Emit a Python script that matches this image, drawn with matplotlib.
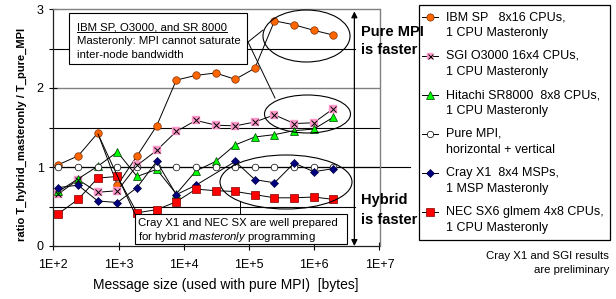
#!/usr/bin/env python3
"""Hybrid masteronly vs pure MPI ratio chart (Excel-style reproduction)."""

import matplotlib
matplotlib.use("Agg")
import matplotlib.pyplot as plt
import numpy as np
from matplotlib import font_manager
from matplotlib.lines import Line2D
from matplotlib.patches import Ellipse, Rectangle

# message sizes (bytes, used with pure MPI)
sizes = [120, 240, 480, 960, 1920, 3840, 7680, 15360, 30720, 61440,
         122880, 245760, 491520, 983040, 1966080]

ibm = [1.03, 1.14, 1.43, 0.77, 1.14, 1.52, 2.10, 2.16, 2.19, 2.11,
       2.25, 2.85, 2.80, 2.73, 2.67]
sgi = [0.66, 0.84, 0.68, 0.70, 1.02, 1.21, 1.45, 1.59, 1.53, 1.52,
       1.57, 1.66, 1.55, 1.56, 1.74]
hitachi = [0.69, 0.85, 1.01, 1.19, 0.88, 0.97, 0.66, 0.95, 1.07, 1.28,
           1.38, 1.41, 1.46, 1.48, 1.63]
pure = [1.00, 1.00, 1.00, 1.00, 1.00, 1.00, 1.00, 1.00, 1.00, 1.00,
        1.00, 1.00, 1.00, 1.00, 1.00]
cray = [0.74, 0.77, 0.57, 0.55, 0.74, 1.07, 0.65, 0.77, np.nan, 1.07,
        0.84, 0.80, 1.05, 0.94, 0.98]
nec = [0.41, 0.59, 0.86, 0.88, 0.42, 0.46, 0.56, 0.72, 0.70, 0.69,
       0.65, 0.61, 0.61, 0.62, 0.59]

labels = [
    ("IBM SP   8x16 CPUs,", "1 CPU Masteronly"),
    ("SGI O3000 16x4 CPUs,", "1 CPU Masteronly"),
    ("Hitachi SR8000  8x8 CPUs,", "1 CPU Masteronly"),
    ("Pure MPI,", "horizontal + vertical"),
    ("Cray X1  8x4 MSPs,", "1 MSP Masteronly"),
    ("NEC SX6 glmem 4x8 CPUs,", "1 CPU Masteronly"),
]
xticks = [1e2, 1e3, 1e4, 1e5, 1e6, 1e7]
xticklabels = ["1E+2", "1E+3", "1E+4", "1E+5", "1E+6", "1E+7"]

names = {f.name for f in font_manager.fontManager.ttflist}
base = "Liberation Sans" if "Liberation Sans" in names else "DejaVu Sans"
plt.rcParams.update({
    "font.family": [base, "DejaVu Sans"],
    "mathtext.fontset": "custom",
    "mathtext.rm": base,
    "mathtext.it": base + ":italic",
    "mathtext.bf": base + ":bold",
})

W, H = 616, 299


def fx(px):
    return px / W


def fy(py):
    return 1 - py / H


fig = plt.figure(figsize=(W / 100, H / 100), dpi=100)
ax_l, ax_r, ax_t, ax_b = 53.3, 379.5, 9, 246
ax = fig.add_axes([fx(ax_l), fy(ax_b), (ax_r - ax_l) / W, (ax_b - ax_t) / H])

ax.set_xscale("log")
ax.set_xlim(1e2, 1e7)
ax.set_ylim(0, 3)
ax.set_xticks(xticks)
ax.set_xticklabels(xticklabels)
ax.xaxis.set_minor_locator(matplotlib.ticker.NullLocator())
ax.set_yticks([0, 1, 2, 3])
ax.set_yticks([0.5, 1.5, 2.5], minor=True)
ax.tick_params(axis="both", which="major", direction="inout", length=6,
               width=0.8, labelsize=9)
ax.tick_params(axis="x", which="major", pad=6)
ax.tick_params(axis="y", which="major", pad=4)
ax.tick_params(axis="y", which="minor", direction="out", length=3, width=0.8)

for side in ("top", "right"):
    ax.spines[side].set_color("#808080")
    ax.spines[side].set_linewidth(1.0)
for side in ("left", "bottom"):
    ax.spines[side].set_color("#202020")
    ax.spines[side].set_linewidth(0.9)

# gray major grid, black guide lines
for v in (1, 2):
    ax.axhline(v, color="#808080", lw=1.0, zorder=1)
ax.axhline(1.5, color="black", lw=0.8, zorder=1.5)
ax.axhline(0.5, xmax=0.924, color="black", lw=0.8, zorder=1.5)
ax.axhline(2.5, xmax=0.924, color="black", lw=0.8, zorder=1.5)
ax.axhline(1.0, xmax=1.094, color="black", lw=0.8, zorder=1.5, clip_on=False)

x = np.array(sizes, dtype=float)
line_kw = dict(color="black", lw=0.7, zorder=3)

ax.plot(x, ibm, marker="o", ms=5.4, mfc="#FF6600", mec="#803000", mew=0.5, **line_kw)
ax.plot(x, sgi, marker="s", ms=5.4, mfc="#FF99CC", mec="#FF99CC", mew=0.3, **line_kw)
ax.plot(x, sgi, ls="none", marker="x", ms=4.2, mec="black", mew=0.7, zorder=3.1)
ax.plot(x, hitachi, marker="^", ms=6.0, mfc="#00FF00", mec="#004000", mew=0.5, **line_kw)
ax.plot(x, pure, marker="o", ms=4.8, mfc="white", mec="black", mew=0.5, **line_kw)
cray_arr = np.array(cray)
ok = ~np.isnan(cray_arr)
ax.plot(x[ok], cray_arr[ok], marker="D", ms=4.4, mfc="#000080", mec="#000040", mew=0.5, **line_kw)
ax.plot(x, nec, marker="s", ms=5.6, mfc="#FF0000", mec="#800000", mew=0.5, **line_kw)

# arrows: pure MPI faster / hybrid faster
arrow_x = 0.923
for tip in (2.97, 0.0):
    ax.annotate("", xy=(arrow_x, tip), xytext=(arrow_x, 1.0),
                xycoords=("axes fraction", "data"),
                textcoords=("axes fraction", "data"),
                arrowprops=dict(arrowstyle="-|>", color="black", lw=0.9,
                                mutation_scale=9, shrinkA=0, shrinkB=0),
                annotation_clip=False, zorder=4)

for txt, yy in (("Pure MPI", 32), ("is faster", 50), ("Hybrid", 200), ("is faster", 220)):
    fig.text(fx(361), fy(yy), txt, ha="left", va="center", fontsize=10.5,
             fontweight="bold", zorder=6)

# ellipses around point groups
for cx, cy, w, h in ((306.5, 36, 87, 52), (307.5, 114, 86, 38), (286, 182, 132, 54)):
    fig.add_artist(Ellipse((fx(cx), fy(cy)), w / W, h / H, transform=fig.transFigure,
                           fill=False, ec="black", lw=0.8, zorder=5))

# connectors
for (x0, y0), (x1, y1) in (((248, 42), (263, 30)), ((248, 42), (275, 98)),
                           ((240, 201), (240, 214)), ((98, 134), (135, 214))):
    fig.add_artist(Line2D([fx(x0), fx(x1)], [fy(y0), fy(y1)], transform=fig.transFigure,
                          color="black", lw=0.7, zorder=5))

# annotation boxes
fig.add_artist(Rectangle((fx(69), fy(64)), (247 - 69) / W, (64 - 13) / H,
                         transform=fig.transFigure, fc="white", ec="black", lw=0.8, zorder=5))
t1 = fig.text(fx(77), fy(30), "IBM SP, O3000, and SR 8000", ha="left", va="baseline",
              fontsize=8.2, zorder=6)
fig.text(fx(77), fy(41), "Masteronly: MPI cannot saturate", ha="left", va="center",
         fontsize=8.2, zorder=6)
fig.text(fx(77), fy(55), "inter-node bandwidth", ha="left", va="center",
         fontsize=8.2, zorder=6)

fig.add_artist(Rectangle((fx(135), fy(244)), (347 - 135) / W, (244 - 214) / H,
                         transform=fig.transFigure, fc="white", ec="black", lw=0.8, zorder=5))
fig.text(fx(138), fy(223), "Cray X1 and NEC SX are well prepared", ha="left", va="center",
         fontsize=8.2, zorder=6)
fig.text(fx(138), fy(237.5), r"for hybrid $\mathit{masteronly}$ programming", ha="left",
         va="center", fontsize=8.2, zorder=6)

# axis labels
fig.text(fx(22), fy(134), "ratio T_hybrid_masteronly / T_pure_MPI", rotation=90,
         ha="center", va="center", fontsize=8, fontweight="bold")
fig.text(fx(226), fy(285), "Message size (used with pure MPI)  [bytes]", ha="center",
         va="center", fontsize=10)

# legend (drawn by hand: marker sits on the first label line)
fig.add_artist(Rectangle((fx(419), fy(240)), (610 - 419) / W, (240 - 5) / H,
                         transform=fig.transFigure, fc="white", ec="black", lw=0.9, zorder=5))
styles = [
    dict(marker="o", ms=5.2, mfc="#FF6600", mec="#803000", mew=0.5),
    dict(marker="s", ms=4.0, mfc="#FF99CC", mec="#FF99CC", mew=0.3),
    dict(marker="^", ms=5.8, mfc="#00FF00", mec="#004000", mew=0.5),
    dict(marker="o", ms=4.6, mfc="white", mec="black", mew=0.5),
    dict(marker="D", ms=4.2, mfc="#000080", mec="#000040", mew=0.5),
    dict(marker="s", ms=5.4, mfc="#FF0000", mec="#800000", mew=0.5),
]
for i, ((l1, l2), st) in enumerate(zip(labels, styles)):
    yy = 17 + 39 * i
    fig.add_artist(Line2D([fx(422), fx(430), fx(438)], [fy(yy)] * 3, markevery=[1],
                          transform=fig.transFigure, color="black", lw=0.7, zorder=6, **st))
    if i == 1:
        fig.add_artist(Line2D([fx(430)], [fy(yy)], ls="none", marker="x", ms=3.6,
                              mec="black", mew=0.7, transform=fig.transFigure, zorder=6.1))
    fig.text(fx(446), fy(yy), l1, ha="left", va="center", fontsize=9, zorder=6)
    fig.text(fx(446), fy(yy + 16), l2, ha="left", va="center", fontsize=9, zorder=6)

fig.text(fx(609), fy(256), "Cray X1 and SGI results", ha="right", va="center", fontsize=8.2)
fig.text(fx(609), fy(270), "are preliminary", ha="right", va="center", fontsize=8.2)

# underline for the first annotation line
fig.canvas.draw()
bb = t1.get_window_extent()
fig.add_artist(Line2D([bb.x0 / W, bb.x1 / W], [fy(31.8)] * 2, transform=fig.transFigure,
                      color="black", lw=0.7, zorder=6))

fig.savefig("out.png", dpi=100)
